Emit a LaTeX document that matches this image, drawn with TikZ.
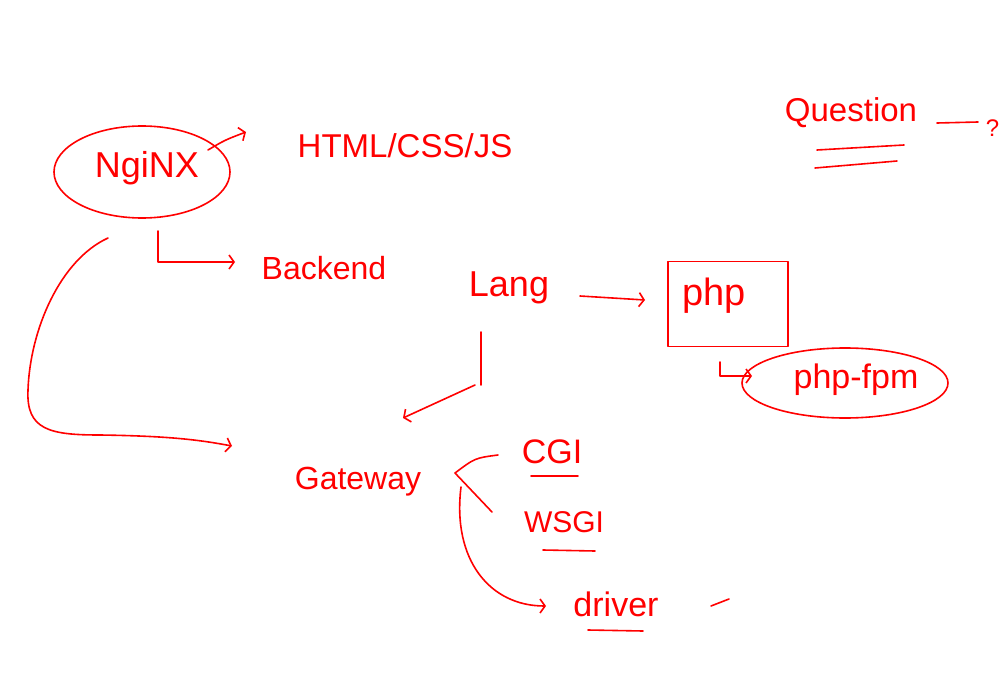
\documentclass[tikz,border=0pt]{standalone}
\usepackage{fontspec}
\setmainfont{Liberation Sans}
\usetikzlibrary{arrows.meta,shapes.geometric}
\newcommand{\fsz}[1]{\fontsize{#1}{#1}\selectfont}
\begin{document}
\begin{tikzpicture}[x=1pt,y=-1pt,line width=1.6pt,
  ink/.style={draw=red,line cap=round,line join=round},
  tip/.style={-{Straight Barb[length=5pt,width=14pt]}},
  txt/.style={text=red,inner sep=0pt}]
\useasboundingbox[fill=white] (0,0) rectangle (999,677);
% Nginx
\node[ink,ellipse,minimum width=176pt,minimum height=92pt] (nginxe) at (142,172) {};
\node[txt,font=\fsz{36}] (nginx) at (147,168) {NgiNX};
\node[txt,font=\fsz{33}] (html) at (405,146) {HTML/CSS/JS};
\node[txt,font=\fsz{32}] (backend) at (324,268) {Backend};
\node[txt,font=\fsz{36}] (lang) at (509,288) {Lang};
\node[ink,minimum width=120pt,minimum height=85pt] (phpbox) at (728,304) {};
\node[txt,font=\fsz{38}] (php) at (714,296) {php};
\node[ink,ellipse,minimum width=206pt,minimum height=70pt] (fpme) at (845,383) {};
\node[txt,font=\fsz{34}] (fpm) at (856,380) {php-fpm};
\node[txt,font=\fsz{33}] (question) at (851,113) {Question};
\node[txt,font=\fsz{24},anchor=west] (qmark) at (985,128) {?};
\node[txt,font=\fsz{32}] (gateway) at (358,482) {Gateway};
\node[txt,font=\fsz{34}] (cgi) at (552,452) {CGI};
\node[txt,font=\fsz{30}] (wsgi) at (564,522) {WSGI};
\node[txt,font=\fsz{34}] (driver) at (616,604) {driver};
% coordinates
\coordinate (a1) at (208,150);
\coordinate (a2) at (246,132);
\coordinate (b1) at (158,231);
\coordinate (b2) at (235,262);
\coordinate (c1) at (108,238);
\coordinate (c2) at (232,446);
\coordinate (l1) at (481,332);
\coordinate (l2) at (481,385);
\coordinate (l3) at (475,385);
\coordinate (l4) at (403,418);
\coordinate (p1) at (580,296);
\coordinate (p2) at (645,300);
\coordinate (f1) at (720,362);
\coordinate (f2) at (752,376);
\coordinate (g1) at (498,455);
\coordinate (g2) at (455,473);
\coordinate (g3) at (492,512);
\coordinate (d1) at (461,487);
\coordinate (d2) at (546,606);
% connectors
\draw[ink,tip] (a1) .. controls (225,140) .. (a2);
\draw[ink,tip] (b1) |- (b2);
\draw[ink,tip] (c1) .. controls (60,260) and (30,330) .. (28,390)
   .. controls (26,430) and (50,435) .. (100,435)
   .. controls (170,436) and (200,440) .. (c2);
\draw[ink] (l1) -- (l2);
\draw[ink,tip] (l3) -- (l4);
\draw[ink,tip] (p1) -- (p2);
\draw[ink,tip] (f1) |- (f2);
\draw[ink] (g1) .. controls (475,458) .. (g2) -- (g3);
\draw[ink,tip] (d1) .. controls (452,560) and (490,606) .. (d2);
% underlines and marks
\coordinate (u1) at (817,150); \coordinate (u2) at (904,145);
\coordinate (u3) at (815,168); \coordinate (u4) at (897,161);
\draw[ink] (u1) -- (u2);
\draw[ink] (u3) -- (u4);
\coordinate (q1) at (937,123); \coordinate (q2) at (978,122);
\draw[ink] (q1) -- (q2);
\coordinate (cu1) at (531,476); \coordinate (cu2) at (578,476);
\draw[ink] (cu1) -- (cu2);
\coordinate (wu1) at (543,550); \coordinate (wu2) at (595,551);
\draw[ink] (wu1) -- (wu2);
\coordinate (du1) at (588,630); \coordinate (du2) at (643,631);
\draw[ink] (du1) -- (du2);
\coordinate (s1) at (711,606); \coordinate (s2) at (729,599);
\draw[ink] (s1) -- (s2);
\end{tikzpicture}
\end{document}
